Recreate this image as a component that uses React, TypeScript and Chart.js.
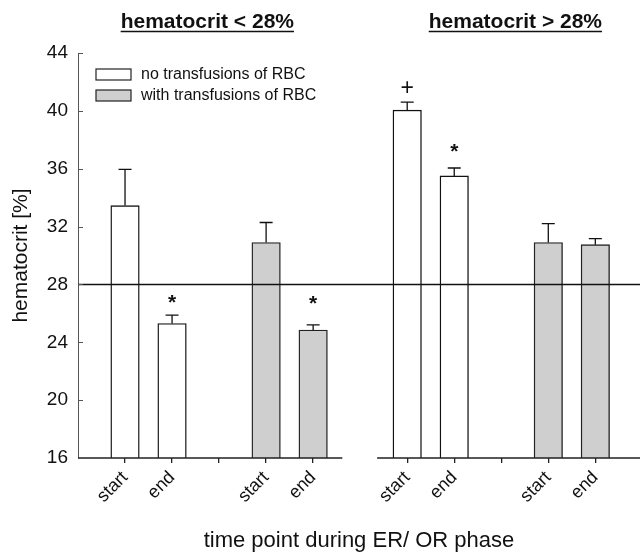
import React, { useEffect, useRef } from "react";
import { Chart, registerables } from "chart.js";

Chart.register(...registerables);

// ---------------- data ----------------
const groupTitles = ["hematocrit < 28%", "hematocrit > 28%"];
const timePoints = ["start", "end"];
const seriesNames = ["no transfusions of RBC", "with transfusions of RBC"];
// order of values: [<28% start, <28% end, >28% start, >28% end]
const noTransMean = [33.45, 25.3, 40.05, 35.5];
const noTransErr = [2.5, 0.58, 0.55, 0.55];
const withTransMean = [30.9, 24.85, 30.9, 30.75];
const withTransErr = [1.38, 0.35, 1.3, 0.42];
const noTransMarks = ["", "*", "+", "*"];
const noTransMarkAt = [0, 27.0, 41.65, 37.4];
const withTransMarks = ["", "*", "", ""];
const withTransMarkAt = [0, 26.9, 0, 0];
const yTicks = [16, 20, 24, 28, 32, 36, 40, 44];
const thresholdValue = 28;
const xAxisTitle = "time point during ER/ OR phase";
const yAxisTitle = "hematocrit [%]";

// ---------------- layout helpers ----------------
const FONT = "'Liberation Sans', Arial, Helvetica, sans-serif";
const SLOTS_PER_GROUP = 6;
const slotOf = (k: number, s: number) => {
  const g = Math.floor(k / timePoints.length);
  const t = k % timePoints.length;
  return g * SLOTS_PER_GROUP + 1 + s * 3 + t;
};
const tickLabelMap: Record<number, string> = {};
groupTitles.forEach((_, g) => {
  [0, 1].forEach((s) =>
    timePoints.forEach((tp, t) => {
      tickLabelMap[g * SLOTS_PER_GROUP + 1 + s * 3 + t] = tp;
    })
  );
  tickLabelMap[g * SLOTS_PER_GROUP + 3] = "";
});
const tickValues = Object.keys(tickLabelMap).map(Number).sort((a, b) => a - b);

const series = [
  { label: seriesNames[0], mean: noTransMean, err: noTransErr, marks: noTransMarks, markAt: noTransMarkAt, fill: "#ffffff", border: "#111111" },
  { label: seriesNames[1], mean: withTransMean, err: withTransErr, marks: withTransMarks, markAt: withTransMarkAt, fill: "#cfcfcf", border: "#222222" },
];

const BREAK_LEFT = 5.62;
const BREAK_RIGHT = 6.36;
const TITLE_POS = [2.75, 9.3];

const decorPlugin = {
  id: "decor",
  afterDatasetsDraw(chart: any) {
    const { ctx, chartArea, scales } = chart;
    const x = scales.x;
    const y = scales.y;
    ctx.save();
    // error bars + markers
    series.forEach((sr, si) => {
      const meta = chart.getDatasetMeta(si);
      sr.mean.forEach((m, j) => {
        const el = meta.data[j];
        if (!el) return;
        const px = el.x;
        const top = y.getPixelForValue(m);
        const cap = y.getPixelForValue(m + sr.err[j]);
        ctx.strokeStyle = "#111";
        ctx.lineWidth = 1.3;
        ctx.beginPath();
        ctx.moveTo(px, top);
        ctx.lineTo(px, cap);
        ctx.moveTo(px - 6.5, cap);
        ctx.lineTo(px + 6.5, cap);
        ctx.stroke();
        const mk = sr.marks[j];
        if (mk) {
          ctx.fillStyle = "#111";
          ctx.font = mk === "*" ? `bold 21px ${FONT}` : `23px ${FONT}`;
          ctx.textAlign = "center";
          ctx.textBaseline = "alphabetic";
          const mt = ctx.measureText(mk);
          const cy = y.getPixelForValue(sr.markAt[j]);
          const by = cy + (mt.actualBoundingBoxAscent - mt.actualBoundingBoxDescent) / 2;
          ctx.fillText(mk, px, by);
        }
      });
    });
    // threshold line
    const ty = y.getPixelForValue(thresholdValue);
    ctx.strokeStyle = "#111";
    ctx.lineWidth = 1.6;
    ctx.beginPath();
    ctx.moveTo(chartArea.left, ty);
    ctx.lineTo(chartArea.right, ty);
    ctx.stroke();
    // broken x axis
    const by = chartArea.bottom;
    ctx.strokeStyle = "#222";
    ctx.lineWidth = 1.5;
    ctx.beginPath();
    ctx.moveTo(chartArea.left, by);
    ctx.lineTo(x.getPixelForValue(BREAK_LEFT), by);
    ctx.moveTo(x.getPixelForValue(BREAK_RIGHT), by);
    ctx.lineTo(chartArea.right, by);
    ctx.stroke();
    // inward y ticks
    ctx.strokeStyle = "#555";
    ctx.lineWidth = 1;
    ctx.beginPath();
    yTicks.forEach((v) => {
      const py = Math.round(y.getPixelForValue(v)) + 0.5;
      ctx.moveTo(chartArea.left, py);
      ctx.lineTo(chartArea.left + 5, py);
    });
    ctx.stroke();
    // legend
    const lx = 96;
    const rows = [74.5, 95.5];
    series.forEach((sr, si) => {
      const cy = rows[si];
      ctx.fillStyle = sr.fill;
      ctx.fillRect(lx, cy - 5.5, 35, 11);
      ctx.strokeStyle = "#222";
      ctx.lineWidth = 1.2;
      ctx.strokeRect(lx, cy - 5.5, 35, 11);
      ctx.fillStyle = "#111";
      ctx.font = `16px ${FONT}`;
      ctx.textAlign = "left";
      ctx.textBaseline = "middle";
      ctx.fillText(sr.label, lx + 45, cy + 0.5);
    });
    // group titles
    groupTitles.forEach((t, g) => {
      const cx = x.getPixelForValue(TITLE_POS[g]);
      ctx.font = `bold 21px ${FONT}`;
      ctx.fillStyle = "#111";
      ctx.textAlign = "center";
      ctx.textBaseline = "alphabetic";
      ctx.fillText(t, cx, 28);
      const w = ctx.measureText(t).width;
      ctx.strokeStyle = "#111";
      ctx.lineWidth = 1.6;
      ctx.beginPath();
      ctx.moveTo(cx - w / 2, 31.5);
      ctx.lineTo(cx + w / 2, 31.5);
      ctx.stroke();
    });
    ctx.restore();
  },
};

export default function App() {
  const ref = useRef<HTMLCanvasElement | null>(null);
  useEffect(() => {
    if (!ref.current) return;
    Chart.defaults.font.family = FONT;
    const chart = new Chart(ref.current, {
      type: "bar",
      data: {
        datasets: series.map((sr, si) => ({
          label: sr.label,
          data: sr.mean.map((m, k) => ({ x: slotOf(k, si), y: m })),
          backgroundColor: sr.fill,
          borderColor: sr.border,
          borderWidth: 1.4,
          barThickness: 28.5,
          grouped: false,
        })),
      },
      plugins: [decorPlugin],
      options: {
        responsive: false,
        animation: false,
        devicePixelRatio: 1,
        layout: { padding: { top: 53, right: 1, bottom: 0, left: 0 } },
        plugins: { legend: { display: false }, tooltip: { enabled: false } },
        scales: {
          x: {
            type: "linear",
            offset: false,
            min: 0,
            max: 11.95,
            afterBuildTicks: (scale: any) => {
              scale.ticks = tickValues.map((v) => ({ value: v }));
            },
            afterFit: (scale: any) => {
              scale.height = 96;
            },
            ticks: {
              autoSkip: false,
              minRotation: 45,
              maxRotation: 45,
              padding: 4,
              color: "#111",
              font: { size: 18 },
              callback: (v: any) => tickLabelMap[Number(v)] ?? "",
            },
            grid: { offset: false, drawOnChartArea: false, drawTicks: true, tickLength: 5, color: "#222", lineWidth: 1.3 },
            border: { display: false },
            title: { display: true, text: xAxisTitle, color: "#111", font: { size: 22 }, padding: { top: 0, bottom: 0 } },
          },
          y: {
            min: 16,
            max: 44,
            afterBuildTicks: (scale: any) => {
              scale.ticks = yTicks.map((v) => ({ value: v }));
            },
            afterFit: (scale: any) => {
              scale.width = 78;
            },
            ticks: { color: "#111", font: { size: 19 }, padding: 10 },
            grid: { drawOnChartArea: false, drawTicks: false },
            border: { display: true, color: "#555", width: 1 },
            title: { display: true, text: yAxisTitle, color: "#111", font: { size: 21 }, padding: { top: 9, bottom: 0 } },
          },
        },
      },
    } as any);
    return () => chart.destroy();
  }, []);
  return (
    <div style={{ position: "absolute", left: 0, top: 0, width: 641, height: 554 }}>
      <canvas ref={ref} width={641} height={554} style={{ width: 641, height: 554 }} />
    </div>
  );
}
